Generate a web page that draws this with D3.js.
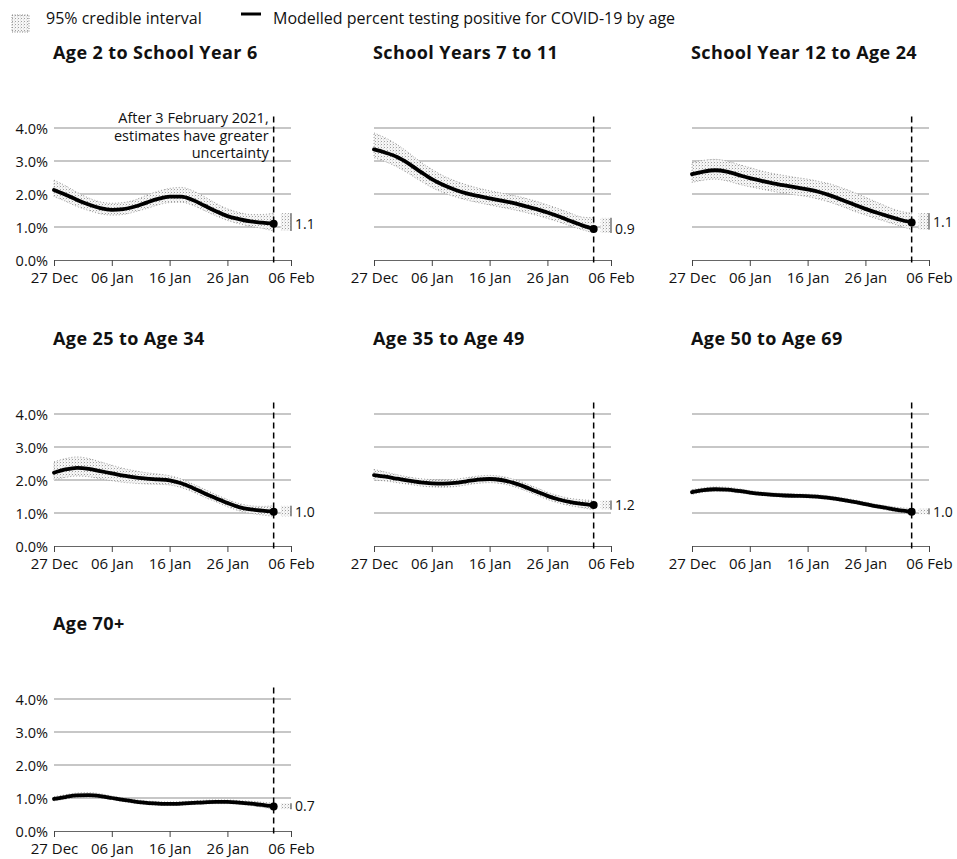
<!DOCTYPE html>
<html>
<head>
<meta charset="utf-8">
<script src="https://cdn.jsdelivr.net/npm/d3@7"></script>
<style>
  body { margin: 0; background: #fff; }
  svg { display: block; }
  text { font-family: "Open Sans", "Noto Sans", sans-serif; fill: #111; }
</style>
</head>
<body>
<svg id="chart" width="957" height="859"></svg>
<script>
// Modelled daily estimates, every second day from 27 Dec 2020 to 3 Feb 2021
const dates = [
  "2020-12-27","2020-12-29","2020-12-31","2021-01-02","2021-01-04",
  "2021-01-06","2021-01-08","2021-01-10","2021-01-12","2021-01-14",
  "2021-01-16","2021-01-18","2021-01-20","2021-01-22","2021-01-24",
  "2021-01-26","2021-01-28","2021-01-30","2021-02-01","2021-02-03"
];

const tickDates  = ["2020-12-27","2021-01-06","2021-01-16","2021-01-26","2021-02-06"];
const tickLabels = ["27 Dec","06 Jan","16 Jan","26 Jan","06 Feb"];
const yTicks     = [0, 1, 2, 3, 4];

const titles = [
  "Age 2 to School Year 6", "School Years 7 to 11", "School Year 12 to Age 24",
  "Age 25 to Age 34", "Age 35 to Age 49", "Age 50 to Age 69", "Age 70+"
];

// Percent testing positive (central estimate) and 95% credible interval bounds
const age2ToYear6    = [2.12,1.98,1.82,1.68,1.57,1.52,1.54,1.62,1.74,1.85,1.92,1.92,1.82,1.65,1.48,1.33,1.24,1.17,1.13,1.10];
const age2ToYear6Lo  = [1.92,1.78,1.62,1.50,1.40,1.36,1.38,1.46,1.56,1.67,1.74,1.75,1.66,1.50,1.34,1.20,1.10,1.02,0.96,0.88];
const age2ToYear6Hi  = [2.42,2.25,2.05,1.88,1.76,1.72,1.74,1.82,1.96,2.08,2.17,2.20,2.10,1.92,1.72,1.55,1.44,1.38,1.38,1.42];

const year7To11      = [3.35,3.25,3.12,2.92,2.68,2.45,2.27,2.13,2.02,1.94,1.87,1.80,1.73,1.64,1.55,1.44,1.32,1.18,1.05,0.94];
const year7To11Lo    = [3.10,2.98,2.82,2.62,2.40,2.20,2.04,1.92,1.82,1.74,1.67,1.60,1.53,1.45,1.36,1.26,1.15,1.03,0.92,0.82];
const year7To11Hi    = [3.85,3.70,3.50,3.25,2.98,2.75,2.55,2.40,2.28,2.18,2.10,2.03,1.96,1.88,1.78,1.67,1.55,1.42,1.30,1.28];

const year12To24     = [2.60,2.68,2.72,2.68,2.58,2.48,2.40,2.32,2.26,2.20,2.14,2.06,1.95,1.82,1.68,1.55,1.43,1.32,1.22,1.14];
const year12To24Lo   = [2.35,2.42,2.45,2.40,2.30,2.22,2.15,2.08,2.02,1.97,1.92,1.84,1.74,1.62,1.48,1.36,1.25,1.14,1.03,0.92];
const year12To24Hi   = [2.95,3.02,3.05,3.00,2.90,2.80,2.70,2.62,2.56,2.50,2.45,2.38,2.30,2.18,2.05,1.90,1.75,1.60,1.48,1.42];

const age25To34      = [2.22,2.32,2.37,2.34,2.27,2.20,2.13,2.08,2.04,2.02,1.99,1.90,1.76,1.60,1.45,1.30,1.18,1.11,1.07,1.04];
const age25To34Lo    = [2.00,2.08,2.12,2.10,2.04,1.98,1.93,1.90,1.88,1.87,1.85,1.77,1.64,1.48,1.34,1.19,1.07,0.99,0.94,0.90];
const age25To34Hi    = [2.55,2.65,2.70,2.65,2.55,2.45,2.35,2.28,2.22,2.18,2.13,2.03,1.88,1.72,1.56,1.41,1.29,1.22,1.20,1.22];

const age35To49      = [2.15,2.10,2.04,1.98,1.93,1.90,1.89,1.91,1.96,2.01,2.03,2.00,1.92,1.80,1.66,1.52,1.41,1.33,1.28,1.24];
const age35To49Lo    = [2.00,1.97,1.92,1.87,1.82,1.79,1.78,1.80,1.85,1.90,1.92,1.89,1.81,1.69,1.55,1.41,1.30,1.22,1.16,1.10];
const age35To49Hi    = [2.32,2.24,2.16,2.09,2.04,2.01,2.00,2.02,2.07,2.12,2.14,2.11,2.03,1.91,1.77,1.63,1.52,1.44,1.40,1.38];

const age50To69      = [1.63,1.69,1.72,1.71,1.67,1.62,1.58,1.55,1.53,1.52,1.51,1.49,1.45,1.40,1.34,1.27,1.20,1.14,1.08,1.04];
const age50To69Lo    = [1.56,1.63,1.66,1.65,1.61,1.57,1.53,1.50,1.48,1.47,1.46,1.44,1.40,1.35,1.29,1.22,1.15,1.08,1.02,0.96];
const age50To69Hi    = [1.71,1.76,1.79,1.78,1.74,1.68,1.64,1.61,1.59,1.58,1.57,1.55,1.51,1.46,1.40,1.33,1.26,1.21,1.16,1.14];

const age70Plus      = [0.97,1.03,1.08,1.09,1.06,1.00,0.94,0.89,0.85,0.83,0.82,0.83,0.85,0.87,0.88,0.88,0.86,0.83,0.79,0.74];
const age70PlusLo    = [0.91,0.97,1.02,1.03,1.00,0.95,0.89,0.84,0.80,0.78,0.77,0.78,0.80,0.82,0.83,0.83,0.81,0.77,0.72,0.66];
const age70PlusHi    = [1.04,1.10,1.15,1.16,1.13,1.06,1.00,0.95,0.91,0.89,0.88,0.89,0.91,0.93,0.94,0.94,0.92,0.90,0.87,0.84];

const estimates = [age2ToYear6, year7To11, year12To24, age25To34, age35To49, age50To69, age70Plus];
const lowers    = [age2ToYear6Lo, year7To11Lo, year12To24Lo, age25To34Lo, age35To49Lo, age50To69Lo, age70PlusLo];
const uppers    = [age2ToYear6Hi, year7To11Hi, year12To24Hi, age25To34Hi, age35To49Hi, age50To69Hi, age70PlusHi];

const annotationLines = ["After 3 February 2021,", "estimates have greater", "uncertainty"];

// ---- layout ----
const colLeft  = [54, 374, 692];
const rowZero  = [260, 546, 831];
const plotW    = 237;
const pxPerPct = 33;

const parse = d3.timeParse("%Y-%m-%d");
const startDate = parse("2020-12-27");
const endDate   = parse("2021-02-06");
const cutoff    = parse("2021-02-03");
const fmt1 = d3.format(".1f");

const svg = d3.select("#chart");

// stipple fill used for credible intervals
const defs = svg.append("defs");
const pat = defs.append("pattern")
  .attr("id", "stipple").attr("patternUnits", "userSpaceOnUse")
  .attr("width", 3).attr("height", 3);
pat.append("rect").attr("width", 3).attr("height", 3).attr("fill", "#f6f6f6");
pat.append("rect").attr("x", 0).attr("y", 0).attr("width", 1).attr("height", 1).attr("fill", "#a0a0a0");
pat.append("rect").attr("x", 2).attr("y", 1.5).attr("width", 0.8).attr("height", 0.8).attr("fill", "#c4c4c4");

// ---- legend ----
const legend = svg.append("g");
legend.append("rect").attr("x", 12).attr("y", 15).attr("width", 17).attr("height", 17)
  .attr("fill", "url(#stipple)").attr("stroke", "#888").attr("stroke-dasharray", "1,1.5");
legend.append("text").attr("x", 46).attr("y", 18).attr("dy", "0.35em")
  .attr("font-size", 16).text("95% credible interval");
legend.append("line").attr("x1", 241).attr("x2", 261).attr("y1", 14).attr("y2", 14)
  .attr("stroke", "#000").attr("stroke-width", 3);
legend.append("text").attr("x", 273).attr("y", 18).attr("dy", "0.35em")
  .attr("font-size", 16).text("Modelled percent testing positive for COVID-19 by age");

// ---- panels ----
titles.forEach((title, i) => {
  const col = i % 3, row = Math.floor(i / 3);
  const left = colLeft[col], zero = rowZero[row];
  const est = estimates[i], lo = lowers[i], hi = uppers[i];
  const rows = dates.map((d, k) => ({ date: parse(d), v: est[k], lo: lo[k], hi: hi[k] }));

  const x = d3.scaleTime().domain([startDate, endDate]).range([left, left + plotW]);
  const y = d3.scaleLinear().domain([0, 4]).range([zero, zero - 4 * pxPerPct]);

  const g = svg.append("g");

  g.append("text").attr("x", left - 1).attr("y", zero - 207).attr("dy", "0.35em")
    .attr("font-size", 18).attr("font-weight", 700).attr("letter-spacing", 0.4)
    .text(title);

  // horizontal gridlines
  g.selectAll("line.grid").data(yTicks.filter(t => t > 0)).join("line")
    .attr("class", "grid")
    .attr("x1", left).attr("x2", left + plotW)
    .attr("y1", d => y(d)).attr("y2", d => y(d))
    .attr("stroke", "#8f8f8f").attr("stroke-width", 1);

  // date axis
  const xAxis = d3.axisBottom(x)
    .tickValues(tickDates.map(parse))
    .tickFormat((d, k) => tickLabels[k])
    .tickSize(6).tickPadding(6);
  const ax = g.append("g").attr("transform", `translate(0,${zero})`).call(xAxis);
  ax.select(".domain").attr("stroke", "#666");
  ax.selectAll(".tick line").attr("stroke", "#444");
  ax.selectAll(".tick text").attr("font-size", 15).attr("fill", "#111")
    .style("font-family", "\"Open Sans\", sans-serif");

  // percentage labels on the first column only
  if (col === 0) {
    g.selectAll("text.ylab").data(yTicks).join("text")
      .attr("class", "ylab")
      .attr("x", left - 6).attr("y", d => y(d) + 1).attr("dy", "0.35em")
      .attr("text-anchor", "end").attr("font-size", 14.5)
      .text(d => fmt1(d) + "%");
  }

  // credible interval band
  const area = d3.area().curve(d3.curveMonotoneX)
    .x(d => x(d.date)).y0(d => y(d.lo)).y1(d => y(d.hi));
  g.append("path").datum(rows).attr("d", area)
    .attr("fill", "url(#stipple)").attr("stroke", "#8a8a8a")
    .attr("stroke-width", 0.8).attr("stroke-dasharray", "1,2");

  // cut-off marker
  g.append("line")
    .attr("x1", x(cutoff)).attr("x2", x(cutoff))
    .attr("y1", y(4.35)).attr("y2", zero + 6)
    .attr("stroke", "#000").attr("stroke-width", 1.5).attr("stroke-dasharray", "6,4");

  // central estimate
  const line = d3.line().curve(d3.curveMonotoneX).x(d => x(d.date)).y(d => y(d.v));
  g.append("path").datum(rows).attr("d", line)
    .attr("fill", "none").attr("stroke", "#000").attr("stroke-width", 3.8)
    .attr("stroke-linejoin", "round").attr("stroke-linecap", "round");

  const last = rows[rows.length - 1];
  g.append("circle").attr("cx", x(last.date)).attr("cy", y(last.v)).attr("r", 4).attr("fill", "#000");

  // interval for the latest estimate beside the plot
  const mx0 = x(cutoff) + 7, mx1 = left + plotW;
  g.append("rect").attr("x", mx0).attr("y", y(last.hi))
    .attr("width", mx1 - mx0).attr("height", y(last.lo) - y(last.hi))
    .attr("fill", "url(#stipple)");
  g.append("line").attr("x1", mx1).attr("x2", mx1)
    .attr("y1", y(last.hi)).attr("y2", y(last.lo))
    .attr("stroke", "#333").attr("stroke-width", 1);
  g.append("text").attr("x", mx1 + 4).attr("y", y(last.v)).attr("dy", "0.35em")
    .attr("font-size", 14).text(fmt1(last.v));

  if (i === 0) {
    g.selectAll("text.note").data(annotationLines).join("text")
      .attr("class", "note")
      .attr("x", x(cutoff) - 5)
      .attr("y", (d, k) => zero - 142 + k * 17.5).attr("dy", "0.35em")
      .attr("text-anchor", "end").attr("font-size", 14.5)
      .text(d => d);
  }
});
</script>
</body>
</html>
